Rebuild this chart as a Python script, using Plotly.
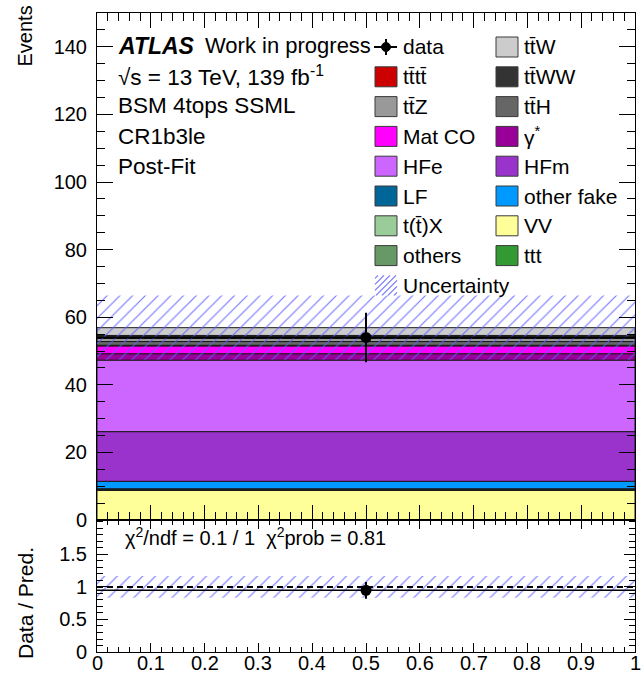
import plotly.graph_objects as go

# ---------------- page geometry (pixels) ----------------
W, H = 642, 677
FONT = "Liberation Sans"

# ---------------- data ----------------
bin_center = [0.5]
bin_width = [1.0]
x_range = [0.0, 1.0]

# stacked post-fit yields, bottom -> top
stack_keys = ["VV", "ttt", "others", "ttX", "LF", "otherfake", "HFm", "HFe",
              "gammastar", "MatCO", "tttt", "ttH", "ttZ", "ttWW", "ttW"]
stack_yields = [8.75, 0.05, 0.10, 0.20, 0.15, 2.20, 14.70, 21.15,
                1.90, 2.30, 0.20, 1.10, 0.90, 0.90, 2.30]

sample_labels = {
    "ttW": "tt\u0304W", "tttt": "tt\u0304tt\u0304", "ttWW": "tt\u0304WW",
    "ttZ": "tt\u0304Z", "ttH": "tt\u0304H", "MatCO": "Mat CO",
    "gammastar": "\u03b3<sup>*</sup>", "HFe": "HFe", "HFm": "HFm", "LF": "LF",
    "otherfake": "other fake", "ttX": "t(t\u0304)X", "VV": "VV",
    "others": "others", "ttt": "ttt",
}
sample_colors = {
    "ttW": "#cccccc", "tttt": "#cc0000", "ttWW": "#333333", "ttZ": "#999999",
    "ttH": "#666666", "MatCO": "#ff00ff", "gammastar": "#990099",
    "HFe": "#cc66ff", "HFm": "#9933cc", "LF": "#006699",
    "otherfake": "#0099ff", "ttX": "#99cc99", "VV": "#ffff99",
    "others": "#669966", "ttt": "#339933",
}

data_counts = [54.0]
data_errors = [7.35]
total_uncertainty = [9.5]
ratio_reference = 1.0

y_main_range = [0, 150]
y_ratio_range = [0, 2.03]
ratio_tickvals = [0, 0.5, 1, 1.5]
x_tickvals = [0, 0.1, 0.2, 0.3, 0.4, 0.5, 0.6, 0.7, 0.8, 0.9, 1.0]
x_ticktext = ["0", "0.1", "0.2", "0.3", "0.4", "0.5", "0.6", "0.7", "0.8", "0.9", "1"]

header_lines = ["\u221as = 13 TeV, 139 fb<sup>-1</sup>", "BSM 4tops SSML", "CR1b3le", "Post-Fit"]
chi2_text = "\u03c7<sup>2</sup>/ndf = 0.1 / 1  \u03c7<sup>2</sup>prob = 0.81"

# legend entries, filled row by row over two columns
legend_order = ["data", "ttW", "tttt", "ttWW", "ttZ", "ttH", "MatCO", "gammastar",
                "HFe", "HFm", "LF", "otherfake", "ttX", "VV", "others", "ttt",
                "unc"]

HATCH = "rgba(95,95,255,0.85)"


def px_x(p):
    return p / W


def px_y(p):
    return 1 - p / H


# frame positions
X0, X1 = 97, 635
Y_TOP, Y_SPLIT, Y_BOT = 13, 520, 652

fig = go.Figure()

# ---------------- stacked backgrounds ----------------
cumulative = [0.0 for _ in bin_center]
for key, val in zip(stack_keys, stack_yields):
    fig.add_trace(go.Bar(
        x=bin_center, y=[val], base=list(cumulative), width=bin_width,
        marker=dict(color=sample_colors[key], line=dict(color="#1a1a1a", width=1)),
        opacity=1, showlegend=False, xaxis="x", yaxis="y", hoverinfo="skip",
    ))
    cumulative = [c + val for c in cumulative]

total_pred = cumulative

# uncertainty band on the total prediction
fig.add_trace(go.Bar(
    x=bin_center, y=[2 * u for u in total_uncertainty],
    base=[t - u for t, u in zip(total_pred, total_uncertainty)], width=bin_width,
    marker=dict(color="rgba(0,0,0,0)", line=dict(width=0),
                pattern=dict(shape="/", fgcolor=HATCH, bgcolor="rgba(0,0,0,0)",
                             size=9, solidity=0.13, fillmode="replace")),
    showlegend=False, xaxis="x", yaxis="y", hoverinfo="skip",
))

# data
fig.add_trace(go.Scatter(
    x=bin_center, y=data_counts, mode="markers",
    marker=dict(color="black", size=11),
    error_y=dict(type="data", array=data_errors, color="black", thickness=2, width=0),
    error_x=dict(type="data", array=[w / 2 for w in bin_width], color="black", thickness=2, width=0),
    showlegend=False, xaxis="x", yaxis="y",
))

# ---------------- ratio panel ----------------
ratio = [d / t for d, t in zip(data_counts, total_pred)]
ratio_err = [e / t for e, t in zip(data_errors, total_pred)]
ratio_band = [u / t for u, t in zip(total_uncertainty, total_pred)]

fig.add_trace(go.Bar(
    x=bin_center, y=[2 * b for b in ratio_band],
    base=[ratio_reference - b for b in ratio_band], width=bin_width,
    marker=dict(color="rgba(0,0,0,0)", line=dict(width=0),
                pattern=dict(shape="/", fgcolor=HATCH, bgcolor="rgba(0,0,0,0)",
                             size=9, solidity=0.13, fillmode="replace")),
    showlegend=False, xaxis="x2", yaxis="y2", hoverinfo="skip",
))
fig.add_trace(go.Scatter(
    x=x_range, y=[ratio_reference, ratio_reference], mode="lines",
    line=dict(color="black", width=2, dash="6px,4px"),
    showlegend=False, xaxis="x2", yaxis="y2", hoverinfo="skip",
))
fig.add_trace(go.Scatter(
    x=bin_center, y=ratio, mode="markers",
    marker=dict(color="black", size=11),
    error_y=dict(type="data", array=ratio_err, color="black", thickness=2, width=0),
    error_x=dict(type="data", array=[w / 2 for w in bin_width], color="black", thickness=1.5, width=0),
    showlegend=False, xaxis="x2", yaxis="y2",
))

# ---------------- axes ----------------
common = dict(showline=True, linecolor="black", linewidth=1, mirror="allticks",
              ticks="inside", tickcolor="black", tickwidth=1, showgrid=False,
              zeroline=False, automargin=False,
              tickfont=dict(family=FONT, size=20, color="black"))

fig.update_layout(
    width=W, height=H, margin=dict(l=0, r=0, t=0, b=0),
    paper_bgcolor="white", plot_bgcolor="white", barmode="overlay",
    font=dict(family=FONT, color="black"),
    xaxis=dict(common, domain=[px_x(X0), px_x(X1)], anchor="y", range=x_range,
               tick0=0, dtick=0.1, ticklen=15, showticklabels=False,
               minor=dict(dtick=0.02, ticklen=8, ticks="inside", tickcolor="black", tickwidth=1)),
    yaxis=dict(common, domain=[px_y(Y_SPLIT), px_y(Y_TOP)], anchor="x",
               range=y_main_range, tick0=0, dtick=20, ticklen=16, ticklabelstandoff=5,
               minor=dict(dtick=5, ticklen=8, ticks="inside", tickcolor="black", tickwidth=1)),
    xaxis2=dict(common, domain=[px_x(X0), px_x(X1)], anchor="y2", range=x_range,
                matches="x", tick0=0, dtick=0.1, ticklen=9, showticklabels=False,
                minor=dict(dtick=0.02, ticklen=5, ticks="inside", tickcolor="black", tickwidth=1)),
    yaxis2=dict(common, domain=[px_y(Y_BOT), px_y(Y_SPLIT)], anchor="x2",
                range=y_ratio_range, tickvals=ratio_tickvals, ticklen=11, ticklabelstandoff=5,
                minor=dict(dtick=0.1, ticklen=6, ticks="inside", tickcolor="black", tickwidth=1)),
)

annotations = []
shapes = []

# x tick labels of the ratio panel, placed on the x2 scale just below the frame
for v, t in zip(x_tickvals, x_ticktext):
    annotations.append(dict(text=t, x=v, xref="x2", y=px_y(Y_BOT + 11), yref="paper",
                            xanchor="center", yanchor="middle", showarrow=False,
                            font=dict(family=FONT, size=20)))

# axis titles
annotations.append(dict(text="Events", x=px_x(25), y=px_y(4), xref="paper", yref="paper",
                        textangle=-90, xanchor="center", yanchor="top", showarrow=False,
                        font=dict(family=FONT, size=20)))
annotations.append(dict(text="Data / Pred.", x=px_x(25), y=px_y(603), xref="paper", yref="paper",
                        textangle=-90, xanchor="center", yanchor="middle", showarrow=False,
                        font=dict(family=FONT, size=21)))

# header text
annotations.append(dict(text="<b><i>ATLAS</i></b>", x=px_x(116), y=px_y(46), xref="paper", yref="paper",
                        xanchor="left", yanchor="middle", showarrow=False,
                        font=dict(family=FONT, size=23)))
annotations.append(dict(text="Work in progress", x=px_x(203), y=px_y(46), xref="paper", yref="paper",
                        xanchor="left", yanchor="middle", showarrow=False,
                        font=dict(family=FONT, size=22)))
for i, line in enumerate(header_lines):
    annotations.append(dict(text=line, x=px_x(116), y=px_y(76 + 30 * i), xref="paper", yref="paper",
                            xanchor="left", yanchor="middle", showarrow=False,
                            font=dict(family=FONT, size=22.5)))

annotations.append(dict(text=chi2_text, x=px_x(123), y=px_y(536), xref="paper", yref="paper",
                        xanchor="left", yanchor="middle", showarrow=False,
                        font=dict(family=FONT, size=20)))

# legend
col_box_x = [375, 496]
col_text_x = [401, 522]
row_y0, row_dy = 47, 29.8
box_w, box_h = 22, 20


def hatch_path(bx0, by0, bx1, by1, step):
    parts = []
    c = bx0 + by0 + step / 2
    while c < bx1 + by1:
        xa = max(bx0, c - by1)
        xb = min(bx1, c - by0)
        if xb > xa:
            parts.append("M%.4f,%.4f L%.4f,%.4f" % (px_x(xa), px_y(c - xa), px_x(xb), px_y(c - xb)))
        c += step
    return " ".join(parts)


for idx, key in enumerate(legend_order):
    col = idx % 2
    row = idx // 2
    yc = row_y0 + row_dy * row
    bx = col_box_x[col]
    if key == "data":
        label = "data"
        mx = bx + box_w / 2
        shapes.append(dict(type="line", xref="paper", yref="paper",
                           x0=px_x(bx - 1), x1=px_x(bx + box_w), y0=px_y(yc), y1=px_y(yc),
                           line=dict(color="black", width=2)))
        shapes.append(dict(type="line", xref="paper", yref="paper",
                           x0=px_x(mx), x1=px_x(mx), y0=px_y(yc - 8), y1=px_y(yc + 8),
                           line=dict(color="black", width=2)))
        shapes.append(dict(type="circle", xref="paper", yref="paper",
                           x0=px_x(mx - 4.5), x1=px_x(mx + 4.5), y0=px_y(yc - 4.5), y1=px_y(yc + 4.5),
                           fillcolor="black", line=dict(color="black", width=1)))
    elif key == "unc":
        label = "Uncertainty"
        shapes.append(dict(type="path", xref="paper", yref="paper",
                           path=hatch_path(bx, yc - box_h / 2, bx + box_w, yc + box_h / 2, 6),
                           line=dict(color=HATCH, width=1.2)))
    else:
        label = sample_labels[key]
        shapes.append(dict(type="rect", xref="paper", yref="paper",
                           x0=px_x(bx), x1=px_x(bx + box_w), y0=px_y(yc + box_h / 2), y1=px_y(yc - box_h / 2),
                           fillcolor=sample_colors[key], line=dict(color="#3a3a3a", width=1)))
    annotations.append(dict(text=label, x=px_x(col_text_x[col]), y=px_y(yc), xref="paper", yref="paper",
                            xanchor="left", yanchor="middle", showarrow=False,
                            font=dict(family=FONT, size=21)))

fig.update_layout(annotations=annotations, shapes=shapes)

fig.write_html("out.html")
